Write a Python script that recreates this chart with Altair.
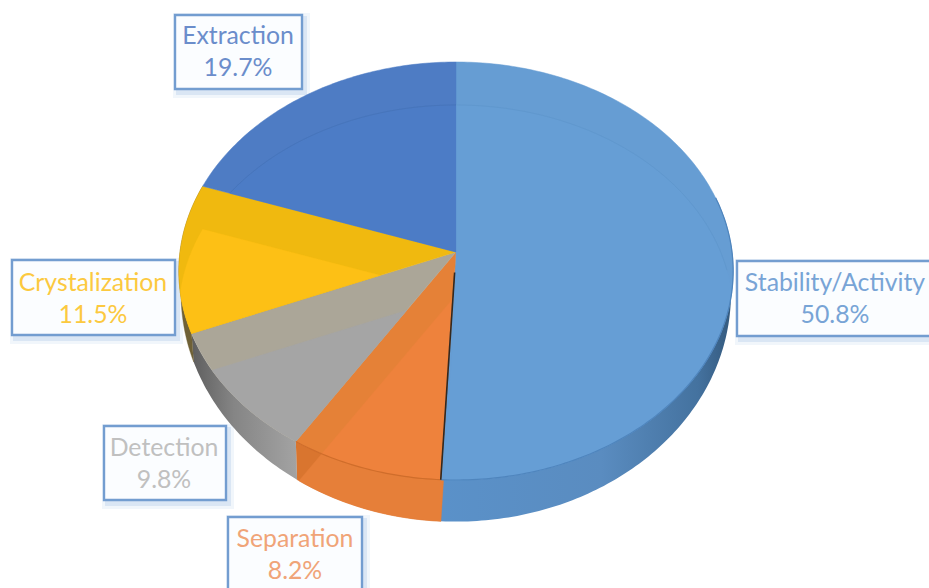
import math
import altair as alt

# Survey shares, clockwise from twelve o'clock
names = ["Stability/Activity", "Separation", "Detection", "Crystalization", "Extraction"]
shares = [50.8, 8.2, 9.8, 11.5, 19.7]
share_labels = ["50.8%", "8.2%", "9.8%", "11.5%", "19.7%"]

# Face, bevel band, bevel line and label colours per slice
face_colors = ["#669ed5", "#ee823c", "#a5a5a5", "#fdc015", "#4c7cc6"]
band_colors = ["#669dd3", "#e58137", "#aba698", "#f0b90f", "#4e7cc4"]
ring_colors = ["#6098ce", None, None, None, "#4775bb"]
label_colors = ["#78a4d6", "#f0a478", "#c0c0c0", "#fcc93f", "#6b8dcb"]

# Label box placement: left, right, top, bottom, centre x, first and second text line
boxes = [
    (737, 933, 261, 336, 835, 284, 316),
    (228, 362, 517, 593, 295, 540, 572),
    (104, 226, 426, 500, 164, 449, 481),
    (12, 175, 260, 335, 93, 284, 316),
    (175, 302, 15, 89, 238, 37, 69),
]

WIDTH, HEIGHT = 929, 588
CX = 456
TILT = 0.0909           # perspective foreshortening of the disc
TOP = (276.0, 207.3, 252.0)      # half width, half height, apex row of the upper face
BOTTOM = (273.8, 226.0, 273.0)   # the same for the lower face
BEVEL = 43              # downward offset of the inner face


def rim(theta, face, dy=0.0):
    u, v = math.sin(theta), math.cos(theta)
    den = 1 + TILT * v
    return [CX + face[0] * u / den, face[2] + dy - face[1] * v / den]


def arc(start, end, face, dy=0.0):
    n = max(3, int(abs(end - start) / 0.015))
    return [rim(start + (end - start) * i / n, face, dy) for i in range(n + 1)]


def sector(start, end, face, dy=0.0):
    return [[CX, face[2] + dy]] + arc(start, end, face, dy)


def signed_area(poly):
    return sum(
        poly[i][0] * poly[(i + 1) % len(poly)][1] - poly[(i + 1) % len(poly)][0] * poly[i][1]
        for i in range(len(poly))
    )


def clip(subject, window):
    """Sutherland-Hodgman clip of a polygon against a convex window."""
    if signed_area(window) < 0:
        window = window[::-1]
    out = subject
    for i in range(len(window)):
        a, b = window[i], window[(i + 1) % len(window)]
        side = lambda p: (b[0] - a[0]) * (p[1] - a[1]) - (b[1] - a[1]) * (p[0] - a[0])
        previous, out = out, []
        for j, p in enumerate(previous):
            q = previous[j - 1]
            sp, sq = side(p), side(q)
            if (sp >= 0) != (sq >= 0):
                t = sq / (sq - sp)
                out.append([q[0] + (p[0] - q[0]) * t, q[1] + (p[1] - q[1]) * t])
            if sp >= 0:
                out.append(p)
        if not out:
            break
    return out


def inside(point, window):
    """True when a point lies inside a convex polygon."""
    if signed_area(window) < 0:
        window = window[::-1]
    for i in range(len(window)):
        a, b = window[i], window[(i + 1) % len(window)]
        if (b[0] - a[0]) * (point[1] - a[1]) - (b[1] - a[1]) * (point[0] - a[0]) < 0:
            return False
    return True


def polygon(points, color):
    ring = [[round(x, 2), round(y, 2)] for x, y in points]
    ring.append(ring[0])
    return {"type": "Feature", "properties": {"color": color},
            "geometry": {"type": "Polygon", "coordinates": [ring]}}


def polyline(points, color):
    return {"type": "Feature", "properties": {"color": color},
            "geometry": {"type": "LineString",
                         "coordinates": [[round(x, 2), round(y, 2)] for x, y in points]}}


PROJECTION = alt.Projection(type="identity", scale=1, translate=[0, 0])


def shapes(features, **mark):
    return alt.Chart(alt.Data(values=features)).mark_geoshape(**mark).encode(
        fill=alt.Fill("properties.color:N", scale=None),
        stroke=alt.Stroke("properties.color:N", scale=None),
    ).project(**PROJECTION.to_dict())


def gradient(stops):
    return alt.Gradient(
        gradient="linear", x1=0, x2=1, y1=0, y2=0,
        stops=[alt.GradientStop(offset=o, color=c) for o, c in stops],
    )


def shaded(points, stops):
    return alt.Chart(alt.Data(values=[polygon(points, "none")])).mark_geoshape(
        fill=gradient(stops), strokeWidth=0
    ).project(**PROJECTION.to_dict())


def stroked(features, width):
    return alt.Chart(alt.Data(values=features)).mark_geoshape(
        filled=False, strokeWidth=width
    ).encode(stroke=alt.Stroke("properties.color:N", scale=None)).project(**PROJECTION.to_dict())


# Slice boundaries in radians, derived from the shares
total = sum(shares)
edges = [0.0]
for s in shares:
    edges.append(edges[-1] + s / total * 2 * math.pi)
spans = list(zip(edges[:-1], edges[1:]))


def wall(start, end):
    return arc(start, end, TOP) + arc(start, end, BOTTOM)[::-1]


top_outline = arc(0, 2 * math.pi, TOP)[:-1]
bottom_outline = arc(0, 2 * math.pi, BOTTOM)[:-1]

layers = []

# Label frames with a soft drop shadow
x_scale = alt.Scale(domain=[0, WIDTH], range=[0, WIDTH])
y_scale = alt.Scale(domain=[0, HEIGHT], range=[0, HEIGHT])
for grow, alpha in ((6, 0.14), (3, 0.28)):
    shadow_rows = [
        {"x": b[0] + 4 - grow, "x2": b[1] + 2 + grow, "y": b[2] + 4 - grow, "y2": b[3] + 3 + grow}
        for b in boxes
    ]
    layers.append(
        alt.Chart(alt.Data(values=shadow_rows)).mark_rect(color="#9fbde4", opacity=alpha, clip=True).encode(
            x=alt.X("x:Q", scale=x_scale, axis=None), x2="x2:Q",
            y=alt.Y("y:Q", scale=y_scale, axis=None), y2="y2:Q",
        )
    )
box_rows = [{"x": b[0], "x2": b[1], "y": b[2], "y2": b[3]} for b in boxes]
layers.append(
    alt.Chart(alt.Data(values=box_rows)).mark_rect(
        fill="#fbfdff", stroke="#739dd0", strokeWidth=2.4, clip=True
    ).encode(
        x=alt.X("x:Q", scale=x_scale, axis=None), x2="x2:Q",
        y=alt.Y("y:Q", scale=y_scale, axis=None), y2="y2:Q",
    )
)

# Side walls of the disc
layers.append(shaded(wall(spans[0][0] + 1.3, spans[0][1]),
                     [(0, "#5a91c9"), (0.55, "#5a8cc0"), (0.88, "#44729f"), (1, "#33587c")]))
layers.append(shapes([polygon(wall(*spans[1]), "#d9752f")], strokeWidth=0.4))
layers.append(shaded(wall(*spans[2]), [(0, "#5e5e5e"), (0.4, "#858585"), (1, "#a3a3a3")]))
layers.append(shapes([polygon(wall(*spans[3]), "#6f6136")], strokeWidth=0.4))

# Lighter part of the orange wall, bounded by the offset slice edge
layers.append(shapes([polygon(clip(sector(*spans[1], TOP, BEVEL), bottom_outline), "#e67f39")], strokeWidth=0.4))

# Upper face: the slice itself, then its offset copy kept inside the slice
faces = [polygon(sector(a, b, TOP), c) for (a, b), c in zip(spans, band_colors)]
layers.append(shapes(faces, strokeWidth=0.5))

inner = []
for i, ((a, b), c) in enumerate(zip(spans, face_colors)):
    window = top_outline if i == 0 else sector(a, b, TOP)
    inner.append(polygon(clip(sector(a, b, TOP, BEVEL), window), c))
layers.append(shapes(inner, strokeWidth=0.3))

# Faint inner bevel line across the far slices, kept inside the slice it crosses
far_slice = sector(*spans[4], TOP)
ring_far = [
    polyline(arc(spans[0][0], spans[0][0] + 1.45, TOP, BEVEL), ring_colors[0]),
    polyline([p for p in arc(*spans[4], TOP, BEVEL) if inside(p, far_slice)], ring_colors[4]),
]
layers.append(stroked(ring_far, 1.0))

# Front rim highlight and the dark cut between the big slice and its neighbour
layers.append(stroked([polyline(arc(spans[0][0] + 1.3, spans[0][1], TOP), "#4f85bd"),
                       polyline(arc(*spans[1], TOP), "#cf6d2b")], 1.2))
apex = [CX, TOP[2]]
cut_end = rim(edges[1], TOP)
cut_start = [apex[0] + (cut_end[0] - apex[0]) * 0.09, apex[1] + (cut_end[1] - apex[1]) * 0.09]
layers.append(stroked([polyline([cut_start, cut_end], "#33281f")], 1.6))

# Label text
text_rows = []
for name, label, color, b in zip(names, share_labels, label_colors, boxes):
    text_rows.append({"x": b[4], "y": b[5], "t": name, "c": color})
    text_rows.append({"x": b[4], "y": b[6], "t": label, "c": color})
layers.append(
    alt.Chart(alt.Data(values=text_rows)).mark_text(
        font="Lato", fontSize=24.8, align="center", baseline="middle", clip=True
    ).encode(
        x=alt.X("x:Q", scale=x_scale, axis=None),
        y=alt.Y("y:Q", scale=y_scale, axis=None),
        text="t:N",
        color=alt.Color("c:N", scale=None),
    )
)

chart = alt.layer(*layers).resolve_scale(x="shared", y="shared").properties(
    width=WIDTH, height=HEIGHT, padding=0,
    autosize=alt.AutoSizeParams(type="none"), background="white",
).configure_view(strokeWidth=0)

chart.save("out.html", embed_options={"renderer": "svg", "actions": False})
